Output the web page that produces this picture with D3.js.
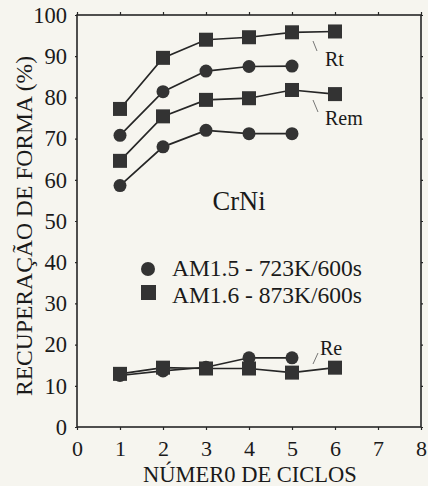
<!DOCTYPE html>
<html><head><meta charset="utf-8">
<script src="https://cdn.jsdelivr.net/npm/d3@7"></script>
<style>
html,body{margin:0;padding:0;background:#f6f5ef;}
svg{display:block;}
svg text{font-family:'Liberation Serif','Tinos','Times New Roman','Noto Serif','DejaVu Serif',serif !important;fill:#1a1a1a;}
</style></head><body>
<script>
const cycles = [1,2,3,4,5,6];
const xTicks = [0,1,2,3,4,5,6,7,8];
const yTicks = [0,10,20,30,40,50,60,70,80,90,100];
// AM1.6 - 873K/600s (squares)
const am16Rt  = [77.2, 89.6, 94.0, 94.6, 95.8, 96.0];
const am16Rem = [64.6, 75.4, 79.4, 79.8, 81.8, 80.8];
const am16Re  = [12.9, 14.4, 14.2, 14.2, 13.2, 14.4];
// AM1.5 - 723K/600s (circles)
const am15Rt  = [70.8, 81.4, 86.4, 87.5, 87.6];
const am15Rem = [58.6, 68.0, 72.0, 71.2, 71.2];
const am15Re  = [12.5, 13.6, 14.5, 16.8, 16.8];
const legendLabels = ["AM1.5 - 723K/600s", "AM1.6 - 873K/600s"];
const xTitle = "NÚMER0 DE CICLOS";
const yTitle = "RECUPERAÇÃO DE FORMA (%)";

const W = 428, H = 486;
const m = {left:77, right:7, top:15, bottom:59};
const svg = d3.select("body").append("svg").attr("width", W).attr("height", H)
  .attr("font-family","Liberation Serif, Times New Roman, serif");
const x = d3.scaleLinear().domain([0,8]).range([m.left, W - m.right]);
const y = d3.scaleLinear().domain([0,100]).range([H - m.bottom, m.top]);
const ink = "#262626";

// frame
svg.append("rect").attr("x", x(0)).attr("y", y(100))
  .attr("width", x(8)-x(0)).attr("height", y(0)-y(100))
  .attr("fill","none").attr("stroke", ink).attr("stroke-width", 1.6);

const ax = (g) => { g.attr("font-family", null); g.select(".domain").remove(); g.selectAll("line").attr("stroke", ink).attr("stroke-width",1.2); };
svg.append("g").attr("transform",`translate(0,${y(0)})`)
  .call(d3.axisBottom(x).tickValues(xTicks).tickSize(3).tickPadding(10).tickFormat(d3.format("d")))
  .call(ax).call(g=>g.selectAll("text").attr("font-size",22));
svg.append("g").attr("transform",`translate(0,${y(100)})`)
  .call(d3.axisTop(x).tickValues(xTicks).tickSize(3).tickFormat(""))
  .call(ax);
svg.append("g").attr("transform",`translate(${x(0)},0)`)
  .call(d3.axisLeft(y).tickValues(yTicks).tickSize(2).tickPadding(8).tickFormat(d3.format("d")))
  .call(ax).call(g=>g.selectAll("text").attr("font-size",22.5));
svg.append("g").attr("transform",`translate(${x(8)},0)`)
  .call(d3.axisRight(y).tickValues(yTicks).tickSize(2).tickFormat(""))
  .call(ax);

// titles
svg.append("text").attr("x", 250).attr("y", 482).attr("text-anchor","middle")
  .attr("font-size",22.5).text(xTitle);
svg.append("text").attr("transform","translate(32,226) rotate(-90)").attr("text-anchor","middle")
  .attr("font-size",23.6).text(yTitle);

const line = d3.line().x((d,i)=>x(cycles[i])).y(d=>y(d));
const series = [
  {v:am16Rt, s:"sq"}, {v:am15Rt, s:"ci"}, {v:am16Rem, s:"sq"},
  {v:am15Rem, s:"ci"}, {v:am15Re, s:"ci"}, {v:am16Re, s:"sq"}
];
const fill = "#333";
series.forEach(se=>{
  svg.append("path").datum(se.v).attr("d", line).attr("fill","none")
    .attr("stroke", ink).attr("stroke-width", 1.7);
});
series.forEach(se=>{
  const g = svg.append("g");
  se.v.forEach((d,i)=>{
    if (se.s === "ci") g.append("circle").attr("cx", x(cycles[i])).attr("cy", y(d)).attr("r", 6.5).attr("fill", fill);
    else g.append("rect").attr("x", x(cycles[i])-7).attr("y", y(d)-7).attr("width",14).attr("height",14).attr("fill", fill);
  });
});

// curve labels with leader lines
const ann = [
  {t:"Rt", tx:325, ty:66, l:[313,41,317,51]},
  {t:"Rem", tx:325, ty:125, l:[313,100,318,112]},
  {t:"Re", tx:320, ty:355, l:[318,353,313,364]}
];
ann.forEach(a=>{
  svg.append("text").attr("x",a.tx).attr("y",a.ty).attr("font-size",20).text(a.t);
  svg.append("line").attr("x1",a.l[0]).attr("y1",a.l[1]).attr("x2",a.l[2]).attr("y2",a.l[3])
    .attr("stroke","#555").attr("stroke-width",0.8);
});

svg.append("text").attr("x", 239).attr("y", 210).attr("text-anchor","middle")
  .attr("font-size",26.5).text("CrNi");

// legend
svg.append("circle").attr("cx",148).attr("cy",269).attr("r",7).attr("fill",fill);
svg.append("rect").attr("x",141).attr("y",285).attr("width",15).attr("height",15).attr("fill",fill);
svg.append("text").attr("x",172).attr("y",276).attr("font-size",23.5).text(legendLabels[0]);
svg.append("text").attr("x",172).attr("y",303).attr("font-size",23.5).text(legendLabels[1]);
</script>
</body></html>
